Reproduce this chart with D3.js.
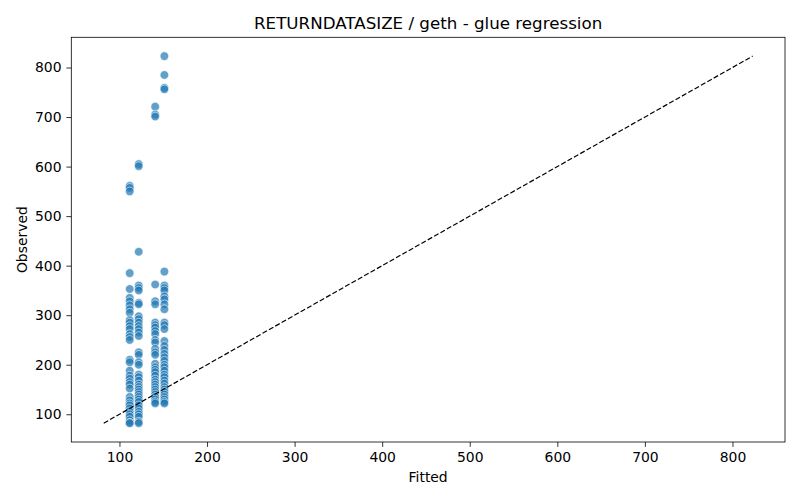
<!DOCTYPE html>
<html>
<head>
<meta charset="utf-8">
<script src="https://cdn.jsdelivr.net/npm/d3@7"></script>
<style>
  body { margin: 0; background: #fff; }
  svg { font-family: 'DejaVu Sans', sans-serif; }
</style>
</head>
<body>
<div class="chart"></div>
<script>
// Fitted value of each column of points
const fittedLevels = [111.7, 122, 140.8, 151.3]

// Observed values, one array per fitted level
const observedA = [561, 557, 550, 385, 353, 335, 328, 320, 312, 305, 290, 285, 278, 272,
    262, 256, 250, 210, 205, 188, 178, 172, 165, 160, 152, 135, 128, 122, 118, 112,
    106, 100, 95, 88, 83, 82]
const observedB = [605, 601, 428, 360, 355, 350, 325, 322, 298, 292, 285, 278, 272, 265,
    258, 225, 220, 205, 200, 180, 175, 168, 160, 155, 150, 145, 140, 135, 130, 125,
    118, 112, 105, 100, 95, 85, 82]
const observedC = [721, 705, 701, 362, 328, 322, 285, 280, 275, 268, 262, 250, 245, 232,
    225, 220, 202, 195, 190, 185, 178, 170, 165, 160, 155, 150, 145, 140, 135, 130,
    125, 122]
const observedD = [823, 785, 759, 756, 388, 360, 355, 350, 338, 332, 322, 312, 285, 280,
    272, 248, 238, 230, 222, 215, 208, 200, 195, 188, 180, 175, 168, 162, 155, 150,
    145, 140, 135, 130, 125, 122]

const xTicks = [100, 200, 300, 400, 500, 600, 700, 800]
const yTicks = [100, 200, 300, 400, 500, 600, 700, 800]

const chartTitle = 'RETURNDATASIZE / geth - glue regression'
const xLabel = 'Fitted'
const yLabel = 'Observed'

/* Configuration */
const width = 800
const height = 500
const margin = { top: 37.3, left: 71.3, right: 15, bottom: 58 }
const color = '#1f77b4'

const data = d3.zip(fittedLevels, [observedA, observedB, observedC, observedD])
    .flatMap(([f, obs]) => obs.map(o => ({ fitted: f, observed: o })))

const lo = d3.min(data, d => Math.min(d.fitted, d.observed))
const hi = d3.max(data, d => Math.max(d.fitted, d.observed))

const x = d3.scaleLinear()
    .domain([45, 860])
    .range([margin.left, width - margin.right])
const y = d3.scaleLinear()
    .domain([44, 861])
    .range([height - margin.bottom, margin.top])

const svg = d3.select('.chart')
    .append('svg')
    .attr('width', width)
    .attr('height', height)
    .attr('viewBox', [0, 0, width, height])

// Axes
const xAxis = svg.append('g')
    .attr('transform', `translate(0,${height - margin.bottom})`)
    .call(d3.axisBottom(x).tickValues(xTicks).tickSize(4.9).tickPadding(4.9))
const yAxis = svg.append('g')
    .attr('transform', `translate(${margin.left},0)`)
    .call(d3.axisLeft(y).tickValues(yTicks).tickSize(4.9).tickPadding(4.9))

for (const ax of [xAxis, yAxis]) {
    ax.select('.domain').remove()
    ax.selectAll('text').attr('font-size', 13.9).attr('fill', '#000')
        .attr('font-family', 'DejaVu Sans, sans-serif')
    ax.selectAll('line').attr('stroke', '#000').attr('stroke-width', 0.8)
}

// Points
svg.append('g')
    .selectAll('circle')
    .data(data)
    .join('circle')
    .attr('cx', d => x(d.fitted))
    .attr('cy', d => y(d.observed))
    .attr('r', 4.3)
    .attr('fill', color)
    .attr('fill-opacity', 0.7)
    .attr('stroke', '#fff')
    .attr('stroke-opacity', 0.7)
    .attr('stroke-width', 0.8)

// Identity line
svg.append('line')
    .attr('x1', x(lo)).attr('y1', y(lo))
    .attr('x2', x(hi)).attr('y2', y(hi))
    .attr('stroke', '#000')
    .attr('stroke-width', 1.2)
    .attr('stroke-dasharray', '5.1,2.2')

// Frame
svg.append('rect')
    .attr('x', margin.left)
    .attr('y', margin.top)
    .attr('width', width - margin.right - margin.left)
    .attr('height', height - margin.bottom - margin.top)
    .attr('fill', 'none')
    .attr('stroke', '#000')
    .attr('stroke-width', 0.8)

// Labels
svg.append('text')
    .attr('x', (margin.left + width - margin.right) / 2)
    .attr('y', 29)
    .attr('text-anchor', 'middle')
    .attr('font-size', 16.7)
    .text(chartTitle)

svg.append('text')
    .attr('x', (margin.left + width - margin.right) / 2)
    .attr('y', 482)
    .attr('text-anchor', 'middle')
    .attr('font-size', 13.9)
    .text(xLabel)

svg.append('text')
    .attr('transform', `translate(27,${(margin.top + height - margin.bottom) / 2}) rotate(-90)`)
    .attr('text-anchor', 'middle')
    .attr('font-size', 13.9)
    .text(yLabel)
</script>
</body>
</html>
